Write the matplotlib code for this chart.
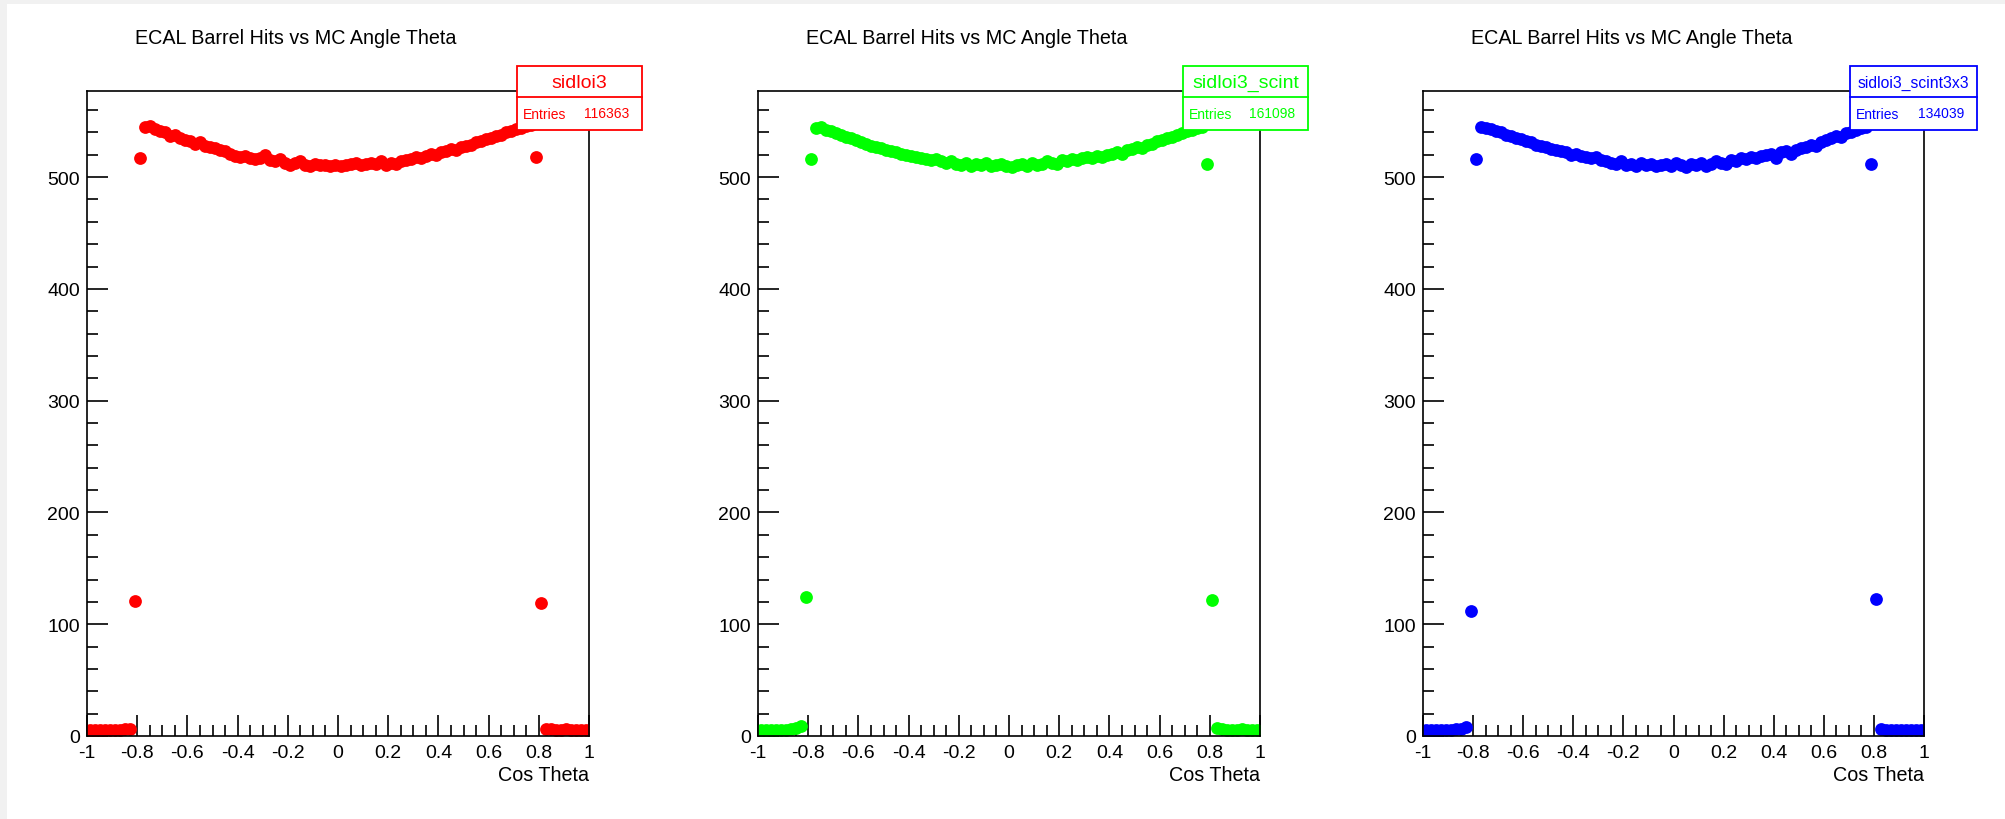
import matplotlib
matplotlib.use('Agg')
import matplotlib.pyplot as plt
from matplotlib.patches import Rectangle
from matplotlib.lines import Line2D
from matplotlib.ticker import MultipleLocator, FuncFormatter
import numpy as np

plt.rcParams['font.family'] = ['Liberation Sans', 'DejaVu Sans']

# ---------------- data ----------------
n_bins = 100
x_min, x_max = -1.0, 1.0

title = "ECAL Barrel Hits vs MC Angle Theta"
x_label = "Cos Theta"
names = ["sidloi3", "sidloi3_scint", "sidloi3_scint3x3"]
entries = [116363, 161098, 134039]
colors = ["#ff0000", "#00ff00", "#0000ff"]

values_sidloi3 = [
    5, 5, 5, 5, 5, 5, 5, 6, 6,
    121, 517,
    545, 546, 543, 541, 540, 537, 538, 535, 533, 532,
    530, 531, 528, 527, 526, 524, 523, 521, 519, 518,
    519, 517, 516, 517, 520, 515, 514, 516, 513, 511,
    513, 514, 511, 510, 512, 511, 511, 510, 511, 510,
    511, 512, 513, 511, 512, 513, 512, 514, 511, 513,
    512, 514, 515, 516, 518, 517, 519, 521, 520, 522,
    523, 525, 524, 527, 528, 529, 531, 532, 534, 535,
    537, 538, 540, 541, 543, 544, 546, 547,
    518, 119,
    6, 6, 5, 5, 6, 5, 5, 5, 5,
]

values_scint = [
    5, 5, 5, 5, 5, 5, 6, 7, 9,
    124, 516,
    544, 545, 542, 541, 539, 538, 536, 535, 533, 531,
    530, 528, 527, 526, 524, 523, 522, 521, 520, 519,
    518, 517, 516, 515, 516, 514, 513, 514, 512, 511,
    513, 510, 512, 511, 513, 510, 511, 512, 510, 509,
    511, 512, 510, 513, 511, 512, 514, 513, 512, 515,
    514, 516, 515, 517, 518, 517, 519, 518, 520, 521,
    522, 521, 524, 525, 527, 526, 529, 530, 532, 533,
    535, 536, 538, 539, 541, 542, 544, 545,
    512, 122,
    7, 6, 5, 5, 5, 6, 5, 5, 5,
]

values_scint3x3 = [
    5, 5, 5, 5, 5, 5, 6, 6, 8,
    112, 516,
    545, 544, 543, 541, 540, 538, 537, 535, 534, 532,
    531, 529, 528, 527, 525, 524, 523, 522, 520, 521,
    519, 518, 517, 518, 515, 514, 513, 512, 514, 511,
    512, 510, 513, 511, 512, 510, 511, 512, 510, 513,
    511, 509, 512, 511, 513, 510, 512, 514, 513, 512,
    515, 514, 517, 516, 518, 517, 519, 520, 521, 517,
    522, 523, 521, 524, 526, 527, 529, 528, 531, 533,
    535, 537, 536, 539, 540, 542, 544, 545,
    512, 123,
    6, 5, 5, 5, 5, 5, 5, 5, 5,
]

series = [values_sidloi3, values_scint, values_scint3x3]

# ---------------- layout (pixels) ----------------
W, H = 2005, 820
DPI = 100

def fx(px):
    return px / W

def fy(py):
    return 1 - py / H

axes_px = [(87, 589), (758, 1260), (1423, 1924)]
ax_top, ax_bot = 92, 737
title_cx = [296, 967, 1632]
title_cy = 38
boxes = [(517, 642), (1183, 1308), (1850, 1977)]
box_top, box_mid, box_bot = 67, 98, 131
name_sizes = [14, 14, 11.3]

fig = plt.figure(figsize=(W / DPI, H / DPI), dpi=DPI, facecolor='#f1f1f1')
fig.add_artist(Rectangle((fx(7), 0), 1 - fx(7), fy(5), transform=fig.transFigure,
                         facecolor='white', edgecolor='none', zorder=-10))

edges = np.linspace(x_min, x_max, n_bins + 1)
centers = 0.5 * (edges[:-1] + edges[1:])

def xfmt(v, pos):
    r = round(v, 2)
    if abs(r) < 1e-9:
        return "0"
    return f"{r:g}"

for i in range(3):
    l, r = axes_px[i]
    ax = fig.add_axes([fx(l), fy(ax_bot), fx(r) - fx(l), fy(ax_top) - fy(ax_bot)])
    ax.set_facecolor('white')
    ax.plot(centers, series[i], 'o', color=colors[i], ms=9.2, mew=0)
    ax.set_xlim(x_min, x_max)
    ax.set_ylim(0, 577)
    ax.xaxis.set_major_locator(MultipleLocator(0.2))
    ax.xaxis.set_minor_locator(MultipleLocator(0.05))
    ax.yaxis.set_major_locator(MultipleLocator(100))
    ax.yaxis.set_minor_locator(MultipleLocator(20))
    ax.xaxis.set_major_formatter(FuncFormatter(xfmt))
    ax.tick_params(which='both', direction='in', top=False, right=False,
                   width=1.2, color='black', labelsize=14)
    ax.tick_params(which='major', length=15)
    ax.tick_params(which='minor', length=8)
    ax.tick_params(axis='x', pad=6)
    ax.tick_params(axis='y', pad=5)
    for sp in ax.spines.values():
        sp.set_linewidth(1.2)
        sp.set_color('black')

    fig.text(fx(r), fy(776), x_label, ha='right', va='center', fontsize=14.2)
    fig.text(fx(title_cx[i]), fy(title_cy), title, ha='center', va='center', fontsize=14.2)

    # stats box
    bl, br = boxes[i]
    fig.add_artist(Rectangle((fx(bl), fy(box_bot)), fx(br) - fx(bl), fy(box_top) - fy(box_bot),
                             transform=fig.transFigure, facecolor='white',
                             edgecolor=colors[i], lw=1.3, zorder=10))
    fig.add_artist(Line2D([fx(bl), fx(br)], [fy(box_mid), fy(box_mid)],
                          transform=fig.transFigure, color=colors[i], lw=1.3, zorder=11))
    fig.text(fx((bl + br) / 2), fy((box_top + box_mid) / 2 + 1), names[i], ha='center', va='center',
             fontsize=name_sizes[i], color=colors[i], zorder=12)
    fig.text(fx(bl + 6), fy(115), "Entries", ha='left', va='center',
             fontsize=10, color=colors[i], zorder=12)
    fig.text(fx(br - 13), fy(114), f"{entries[i]}", ha='right', va='center',
             fontsize=10, color=colors[i], zorder=12)

fig.savefig('out.png', dpi=DPI, facecolor=fig.get_facecolor())
